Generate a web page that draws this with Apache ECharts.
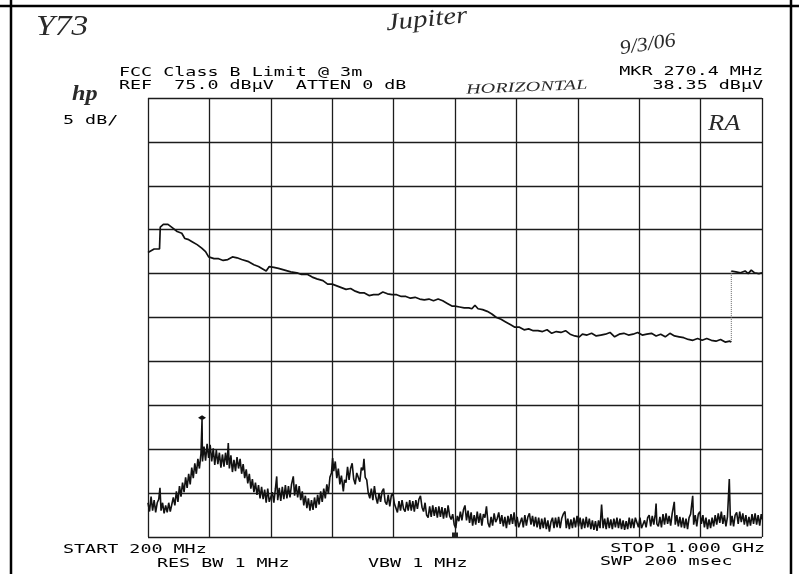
<!DOCTYPE html>
<html>
<head>
<meta charset="utf-8">
<script src="https://cdn.jsdelivr.net/npm/echarts@6/dist/echarts.min.js"></script>
<style>html,body{margin:0;padding:0;background:#fff}#c{width:799px;height:574px}</style>
</head>
<body>
<div id="c"></div>
<script>
// ---- data ----
const startMHz = 200, stopMHz = 1000;
const refLevel = 75, bottomLevel = 25, dbPerDiv = 5;
const markerMHz = 270.4, markerDbuv = 38.35;

// FCC Class B limit (converted to analyzer dBuV), 200-960 MHz
const limitLow = [[200,57.4],[204,57.6],[208,57.8],[215,57.8],[216,60.3],[220,60.6],[226,60.6],[232,60.2],[238,59.8],[244,59.6],[248,59.0],[252,58.9],[258,58.6],[264,58.3],[270,57.9],[275,57.5],[279,56.9],[286,56.7],[292,56.7],[298,56.5],[304,56.6],[310,56.9],[316,56.8],[322,56.6],[330,56.4],[338,56.0],[344,55.8],[350,55.5],[354,55.3],[358,55.8],[364,55.7],[370,55.6],[378,55.4],[386,55.2],[394,55.1],[400,54.9],[408,54.9],[414,54.6],[420,54.4],[428,54.2],[434,53.8],[440,53.8],[446,53.6],[452,53.4],[458,53.2],[464,53.3],[470,53.0],[476,52.8],[482,52.8],[488,52.5],[494,52.6],[500,52.6],[506,52.9],[512,52.7],[518,52.6],[524,52.6],[530,52.4],[536,52.4],[542,52.2],[548,52.3],[554,52.1],[560,52.0],[566,52.1],[572,51.9],[578,52.1],[584,51.9],[590,51.6],[596,51.3],[600,51.3],[606,51.2],[612,51.1],[618,51.1],[622,51.0],[626,51.4],[630,51.0],[636,50.9],[642,50.7],[648,50.4],[654,50.0],[660,49.8],[666,49.5],[672,49.2],[678,48.9],[684,48.9],[690,48.6],[696,48.7],[702,48.5],[708,48.5],[714,48.4],[720,48.6],[726,48.2],[732,48.4],[738,48.3],[744,48.5],[750,48.1],[756,47.9],[762,47.8],[766,48.1],[772,48.0],[778,48.2],[784,47.9],[790,48.0],[796,48.1],[802,48.3],[808,47.8],[814,48.1],[820,48.2],[826,48.0],[832,48.1],[838,48.3],[844,48.0],[850,48.1],[856,48.2],[862,47.9],[868,48.1],[874,47.8],[880,48.2],[886,47.9],[892,47.8],[898,47.7],[904,47.5],[910,47.4],[916,47.6],[922,47.4],[928,47.6],[934,47.4],[940,47.3],[946,47.5],[952,47.2],[958,47.3],[960,47.2]];
// limit above 960 MHz
const limitHigh = [[960,55.3],[966,55.2],[972,55.1],[978,55.3],[982,55.0],[986,55.4],[990,55.1],[996,55.0],[1000,55.1]];
// step of the limit at 960 MHz (drawn dotted)
const limitStep = [[960,47.2],[960,55.3]];

// measured trace (MHz, dBuV)
const trace = [[200,28.9],[202,27.9],[204,29.6],[206,28.0],[208,29.2],[210,27.8],[212,28.9],[214,29.3],[215.6,30.6],[217,28.0],[219,28.9],[221,27.7],[223,28.6],[225,27.8],[227,28.9],[229,27.9],[231,28.7],[233,29.5],[235,28.6],[237,30.2],[239,29.0],[241,30.8],[243,29.6],[245,31.2],[247,30.1],[249,31.8],[251,30.6],[253,32.2],[255,31.0],[257,32.9],[259,31.7],[261,33.4],[263,32.2],[265,33.9],[267,32.8],[269,34.5],[270.4,38.35],[271,33.6],[273,35.3],[275,33.7],[277,35.6],[279,34.0],[281,35.5],[283,33.6],[285,35.1],[287,33.2],[289,34.9],[291,33.3],[293,34.6],[295,32.9],[297,34.4],[299,33.0],[301,34.6],[303,33.2],[304.6,35.7],[306,32.8],[308,34.3],[310,32.4],[312,33.8],[314,32.5],[316,34.1],[318,32.8],[320,33.9],[322,32.2],[324,33.3],[326,31.7],[328,32.7],[330,31.1],[332,32.2],[334,30.5],[336,31.6],[338,30.1],[340,31.2],[342,29.8],[344,30.9],[346,29.4],[348,30.7],[350,29.3],[352,30.4],[354,28.9],[356,30.5],[358,29.0],[360,28.8],[362,30.1],[364,28.9],[366,30.5],[367.7,31.9],[369,29.2],[371,30.6],[373,29.1],[375,30.7],[377,29.3],[379,30.9],[381,29.4],[383,30.8],[385,29.5],[387,31.0],[389.3,31.9],[391,29.7],[393,31.0],[395,29.5],[397,30.8],[399,29.2],[401,30.2],[403,28.6],[405,29.7],[407,28.3],[409,29.4],[411,28.0],[413,29.2],[415,28.1],[417,29.5],[419,28.3],[421,29.8],[423,28.7],[425,30.2],[427,29.0],[429,30.5],[431,29.4],[433,31.0],[435,29.9],[437,31.8],[439,32.3],[440.6,34.0],[442,32.5],[444,33.6],[446,31.7],[448,32.8],[450,31.0],[452,32.0],[454.5,30.2],[456,31.5],[458,31.2],[460,33.0],[462,31.5],[464,32.8],[466,33.4],[468,31.6],[470,31.0],[472,32.3],[474,32.1],[476,31.3],[478,32.9],[480,32.6],[481.4,33.9],[483,31.8],[485,31.5],[487,30.0],[489,29.4],[491,30.5],[493,29.2],[495,30.8],[497,29.5],[499,28.8],[501,30.0],[503,29.0],[505,30.2],[507,30.5],[509,29.0],[511,28.7],[513,29.8],[515,28.5],[517,29.7],[519,30.0],[521,28.8],[523,28.3],[525,27.8],[527,29.1],[529,28.0],[531,29.2],[533,28.2],[535,27.9],[537,29.0],[539,28.0],[541,29.2],[543,28.0],[545,29.1],[547,27.9],[549,29.2],[551,28.2],[553,29.3],[555,29.7],[557,28.4],[559,27.9],[561,28.9],[563,27.5],[565,27.2],[567,28.5],[569,27.3],[571,28.6],[573,27.4],[575,28.4],[577,27.2],[579,28.5],[581,27.3],[583,28.4],[585,27.1],[587,28.3],[589,27.2],[591,28.6],[593,27.4],[595,27.0],[597,27.6],[599,26.4],[601,26.0],[603,27.4],[605,26.8],[607,27.9],[609,26.9],[611,28.1],[613,28.6],[615,26.9],[617,28.0],[619,26.6],[621,27.8],[623,26.3],[625,27.5],[627,26.4],[629,27.9],[631,26.6],[633,27.7],[635,26.3],[637,27.6],[639,27.2],[641,28.5],[643,26.6],[645,26.1],[647,27.3],[649,26.3],[651,27.7],[653,26.7],[655,27.1],[657,27.8],[659,26.5],[661,27.5],[663,26.2],[665,27.3],[667,26.0],[669,27.4],[671,26.4],[673,27.6],[675,26.5],[677,27.8],[679,26.2],[681,27.3],[683,26.1],[685,25.9],[687,27.2],[689,26.1],[691,27.5],[693,26.3],[695,27.3],[697,27.7],[699,26.4],[701,27.4],[703,26.2],[705,27.3],[707,26.1],[709,27.2],[711,25.9],[713,27.1],[715,26.0],[717,27.2],[719,25.9],[721,26.9],[723,25.6],[725,26.7],[727,27.2],[729,26.0],[731,27.2],[733,26.1],[735,27.3],[737,26.0],[739,27.1],[741,27.6],[743.3,27.9],[745,26.0],[747,27.1],[749,25.9],[751,27.0],[753,26.0],[755,27.2],[757,26.1],[759,27.4],[761,26.2],[763,27.2],[765,25.9],[767,27.1],[769,26.0],[771,27.3],[773,26.1],[775,27.1],[777,25.9],[779,26.9],[781,25.8],[783,26.8],[785,25.7],[787,26.9],[789,26.0],[791,28.7],[793,26.0],[795,27.1],[797,25.9],[799,27.2],[801,26.0],[803,27.0],[805,25.9],[807,27.1],[809,26.1],[811,27.2],[813,26.0],[815,27.1],[817,25.9],[819,26.9],[821,25.8],[823,26.8],[825,25.9],[827,27.2],[829,26.0],[831,27.1],[833,26.0],[835,27.2],[837,27.4],[839,26.1],[841,27.2],[843,26.0],[845,25.8],[847,26.9],[849,26.1],[851,27.2],[853,27.5],[855,26.2],[857,27.4],[859,26.4],[861,27.6],[862,28.8],[863,26.5],[865,26.2],[867,27.3],[869,26.1],[871,27.6],[873,26.4],[875,27.7],[877,26.5],[879,27.4],[881,26.3],[883,27.7],[885.7,29.0],[887,26.4],[889,27.5],[891,26.2],[893,27.3],[895,26.1],[897,27.2],[899,26.0],[901,27.1],[903,25.9],[905,27.2],[907,27.6],[909.7,29.7],[911,26.4],[913,27.5],[915,26.2],[917,27.6],[919,27.9],[921,26.5],[923,27.5],[925,26.1],[927,27.2],[929,25.9],[931,27.0],[933,26.0],[935,27.2],[937,26.2],[939,27.5],[941,26.4],[943,27.7],[945,26.6],[947,27.9],[949,26.5],[951,27.5],[953,26.2],[955,27.3],[957.4,31.6],[959,26.3],[961,27.4],[963,26.2],[965,27.5],[967,27.8],[969,26.5],[971,27.9],[973,26.7],[975,27.7],[977,26.4],[979,27.5],[981,26.2],[983,27.3],[985,26.3],[987,27.6],[989,26.5],[991,27.7],[993,26.4],[995,27.5],[997,26.3],[999,27.6],[1000,27.0]];

// ---- texts ----
const txtTitle = 'FCC Class B Limit @ 3m';
const txtRef = 'REF  75.0 dB\u00b5V  ATTEN 0 dB';
const txtMkr = 'MKR 270.4 MHz';
const txtMkrVal = '38.35 dB\u00b5V';
const txtScale = '5 dB/';
const txtStart = 'START 200 MHz';
const txtStop = 'STOP 1.000 GHz';
const txtRbw = 'RES BW 1 MHz';
const txtVbw = 'VBW 1 MHz';
const txtSwp = 'SWP 200 msec';
const handY73 = 'Y73', handJupiter = 'Jupiter', handDate = '9/3/06', handPol = 'HORIZONTAL', handRA = 'RA', handHp = 'hp';

// ---- chart ----
const MONO = '12px "DejaVu Sans Mono"';
const SX = 1.53;
function mono(text, x, y, align) {
  return { type: 'text', x: x, y: y, scaleX: SX, silent: true,
    style: { text: text, x: 0, y: 0, font: MONO, fill: '#000',
      align: align || 'left', verticalAlign: 'middle', textAlign: align || 'left', textVerticalAlign: 'middle' } };
}
function hand(text, x, y, size, rot, sx, extra) {
  return { type: 'text', x: x, y: y, rotation: rot || 0, scaleX: sx || 1, silent: true,
    style: { text: text, x: 0, y: 0, font: (extra || 'italic') + ' ' + size + 'px "Liberation Serif"', fill: '#2a2a2a',
      align: 'left', verticalAlign: 'middle', textAlign: 'left', textVerticalAlign: 'middle' } };
}
function frame(x1, y1, x2, y2) {
  return { type: 'line', silent: true, shape: { x1: x1, y1: y1, x2: x2, y2: y2 }, style: { stroke: '#000', lineWidth: 2.5 } };
}

const chart = echarts.init(document.getElementById('c'), null, { renderer: 'canvas' });
const lineCol = '#111';
chart.setOption({
  animation: false,
  backgroundColor: '#ffffff',
  grid: { left: 148, top: 98, width: 614, height: 439, show: false },
  xAxis: [
    { type: 'value', min: startMHz, max: stopMHz, show: false },
    { type: 'value', min: 0, max: 10, interval: 1, position: 'bottom',
      axisLine: { show: false }, axisTick: { show: false }, axisLabel: { show: false },
      splitLine: { show: true, lineStyle: { color: '#1c1c1c', width: 1.3 } } }
  ],
  yAxis: { type: 'value', min: bottomLevel, max: refLevel, interval: dbPerDiv,
    axisLine: { show: false }, axisTick: { show: false }, axisLabel: { show: false },
    splitLine: { show: true, lineStyle: { color: '#1c1c1c', width: 1.3 } } },
  series: [
    { type: 'line', xAxisIndex: 0, data: limitLow, showSymbol: false, symbol: 'none',
      lineStyle: { color: lineCol, width: 1.7 } },
    { type: 'line', xAxisIndex: 0, data: limitStep, showSymbol: false, symbol: 'none',
      lineStyle: { color: '#666', width: 1, type: 'dotted' } },
    { type: 'line', xAxisIndex: 0, data: limitHigh, showSymbol: false, symbol: 'none',
      lineStyle: { color: lineCol, width: 1.7 } },
    { type: 'line', xAxisIndex: 0, data: trace, showSymbol: false, symbol: 'none',
      lineStyle: { color: lineCol, width: 1.6 },
      markPoint: { silent: true, label: { show: false },
        data: [
          { coord: [markerMHz, markerDbuv], symbol: 'diamond', symbolSize: [8, 5], symbolOffset: [0, -2], itemStyle: { color: '#111' } },
          { coord: [600, bottomLevel], symbol: 'rect', symbolSize: [6, 5], symbolOffset: [0, -2], itemStyle: { color: '#222' } }
        ] } }
  ],
  graphic: [
    frame(0, 6, 799, 6), frame(11, 0, 11, 574), frame(791, 0, 791, 574),
    mono(txtTitle, 119, 73), mono(txtRef, 119, 86),
    mono(txtMkr, 763, 72, 'right'), mono(txtMkrVal, 763, 86, 'right'),
    mono(txtScale, 63, 121),
    mono(txtStart, 63, 550), mono(txtStop, 765, 549, 'right'),
    mono(txtRbw, 157, 564), mono(txtVbw, 368, 564), mono(txtSwp, 600, 562),
    hand(handY73, 36, 27, 30, 0, 1.12),
    hand(handJupiter, 386, 24, 24, 0.1, 1.2),
    hand(handDate, 620, 49, 20, 0.15, 1.1),
    hand(handPol, 466, 90, 14, 0.04, 1.45),
    hand(handRA, 708, 124, 24, 0, 1.1),
    hand(handHp, 72, 94, 22, 0, 1.1, 'italic bold')
  ]
});
</script>
</body>
</html>
